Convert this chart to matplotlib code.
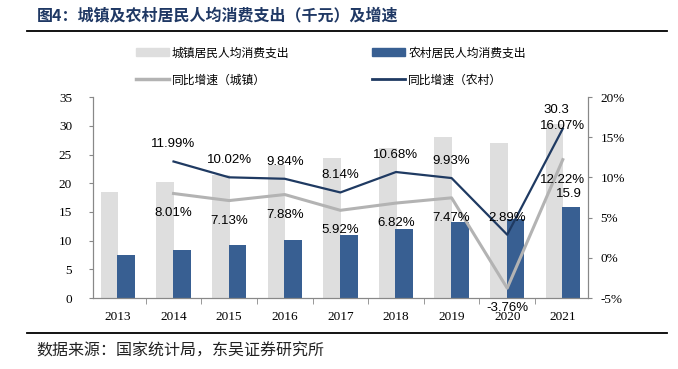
import matplotlib
matplotlib.use("Agg")
import matplotlib.pyplot as plt
from matplotlib.ticker import FuncFormatter, FixedLocator
from matplotlib.lines import Line2D

plt.rcParams['font.family'] = ['Noto Sans CJK SC', 'DejaVu Sans']

years = ['2013', '2014', '2015', '2016', '2017', '2018', '2019', '2020', '2021']
urban_spend = [18.5, 20.2, 21.4, 23.1, 24.4, 26.1, 28.1, 27.0, 30.3]
rural_spend = [7.5, 8.4, 9.2, 10.1, 10.95, 12.1, 13.3, 13.7, 15.9]
urban_growth = [None, 8.01, 7.13, 7.88, 5.92, 6.82, 7.47, -3.76, 12.22]
rural_growth = [None, 11.99, 10.02, 9.84, 8.14, 10.68, 9.93, 2.89, 16.07]

title = '图4：城镇及农村居民人均消费支出（千元）及增速'
source = '数据来源：国家统计局，东吴证券研究所'
names = ['城镇居民人均消费支出', '农村居民人均消费支出', '同比增速（城镇）', '同比增速（农村）']

c_urban_bar = '#dedede'
c_rural_bar = '#385f92'
c_urban_line = '#b3b3b3'
c_rural_line = '#1f3a62'

fig = plt.figure(figsize=(6.78, 3.69), dpi=100)
ax = fig.add_axes([0.137, 0.192, 0.730, 0.545])
ax2 = ax.twinx()

x = list(range(len(years)))
w = 0.32
ax.bar([i - 0.15 for i in x], urban_spend, width=w, color=c_urban_bar, zorder=1)
ax.bar([i + 0.15 for i in x], rural_spend, width=w, color=c_rural_bar, zorder=2)

gx = [i for i, v in zip(x, urban_growth) if v is not None]
ug = [v for v in urban_growth if v is not None]
rg = [v for v in rural_growth if v is not None]
ax2.plot(gx, ug, color=c_urban_line, lw=2.2, zorder=3)
ax2.plot(gx, rg, color=c_rural_line, lw=1.6, zorder=4)

ax.set_xlim(-0.45, len(years) - 0.55)
ax.set_ylim(0, 35)
ax.set_yticks(range(0, 36, 5))
ax2.set_ylim(-5, 20)
ax2.set_yticks(range(-5, 21, 5))
ax2.yaxis.set_major_formatter(FuncFormatter(lambda v, p: f'{v:.0f}%'))

ax.set_xticks(x)
ax.set_xticklabels(years)
ax.xaxis.set_minor_locator(FixedLocator([i + 0.5 for i in x[:-1]]))
ax.tick_params(axis='x', which='major', length=0, pad=9)
ax.tick_params(axis='x', which='minor', length=4, direction='out', color='#888888')

serif = 'Liberation Serif'
for lab in ax.get_xticklabels() + ax.get_yticklabels() + ax2.get_yticklabels():
    lab.set_fontfamily(serif)
    lab.set_fontsize(9.5)
ax.tick_params(axis='y', length=3, color='#888888', pad=12)
ax2.tick_params(axis='y', length=3, color='#888888', pad=6)

for a in (ax, ax2):
    a.spines['top'].set_visible(False)
    for s in ('left', 'right', 'bottom'):
        a.spines[s].set_color('#888888')
        a.spines[s].set_linewidth(0.8)

lab_font = dict(fontfamily='Liberation Sans', fontsize=9.5, ha='center', va='center', color='black')
for i, v in zip(gx, rg):
    dy = 3 if i == len(years) - 1 else 17
    ax2.annotate(f'{v:.2f}%', (i, v), xytext=(0, dy), textcoords='offset pixels', zorder=6, **lab_font)
for i, v in zip(gx, ug):
    ax2.annotate(f'{v:.2f}%', (i, v), xytext=(0, -20), textcoords='offset pixels', zorder=6, **lab_font)

last = len(years) - 1
ax.annotate(f'{urban_spend[last]:.1f}', (last - 0.15, urban_spend[last]), xytext=(2, 14),
            textcoords='offset pixels', **lab_font)
ax.annotate(f'{rural_spend[last]:.1f}', (last + 0.15, rural_spend[last]), xytext=(-2, 13),
            textcoords='offset pixels', **lab_font)

# title, rules, source
fig.text(37 / 678, 1 - 15 / 369, title, fontsize=11.5, fontweight='bold', color='#1f3864',
         ha='left', va='center')
fig.add_artist(Line2D([27 / 678, 667 / 678], [1 - 31 / 369] * 2, color='black', lw=1.3))
fig.add_artist(Line2D([27 / 678, 667 / 678], [1 - 333 / 369] * 2, color='black', lw=1.3))
fig.text(36 / 678, 1 - 351 / 369, source, fontsize=11.5, color='#222222', ha='left', va='center')

handles = [
    plt.Rectangle((0, 0), 1, 1, color=c_urban_bar),
    Line2D([], [], color=c_urban_line, lw=2.5),
    plt.Rectangle((0, 0), 1, 1, color=c_rural_bar),
    Line2D([], [], color=c_rural_line, lw=2.0),
]
labels = [names[0], names[2], names[1], names[3]]
fig.legend(handles, labels, ncol=2, loc='center left', bbox_to_anchor=(136 / 678, 1 - 66.5 / 369),
           frameon=False, fontsize=8.5, handlelength=2.8, handletextpad=0.25,
           columnspacing=7.0, labelspacing=1.2, borderpad=0, borderaxespad=0)

fig.savefig('out.png', dpi=100)
